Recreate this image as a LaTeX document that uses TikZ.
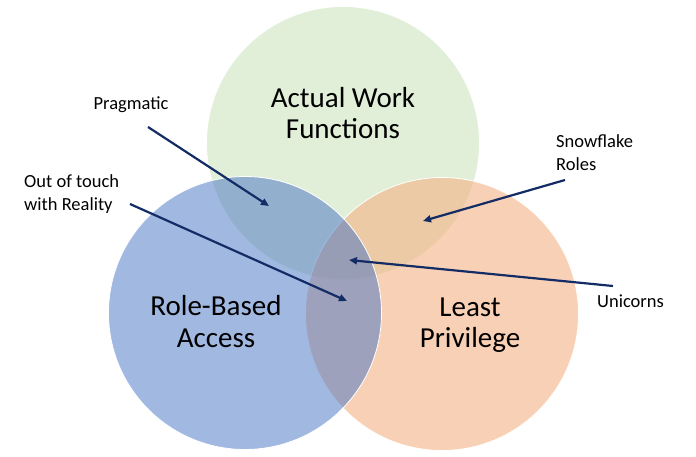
\documentclass[tikz,border=0pt]{standalone}
\usepackage{fontspec}
\setmainfont{Carlito}
\usetikzlibrary{arrows.meta}
\definecolor{cgreen}{HTML}{A9D18E}
\definecolor{cblue}{HTML}{4472C4}
\definecolor{corange}{HTML}{F4B183}
\definecolor{navy}{HTML}{132C66}
\tikzset{
  venn/.style={draw=white, line width=0.8pt},
  bigtext/.style={inner sep=0pt, align=center, font=\fontsize{29}{31.5}\selectfont, text=black},
  smalltext/.style={inner sep=0pt, align=left, font=\fontsize{18.5}{22.5}\selectfont, text=black},
  pointer/.style={draw=navy, line width=2.2pt, -{Triangle[length=8pt,width=7pt]}}
}
\begin{document}
\begin{tikzpicture}[x=1pt,y=-1pt]
\useasboundingbox (0,0) rectangle (696,457);
% circles
\filldraw[venn, fill=cgreen, fill opacity=0.35] (343,143) circle[radius=136.5];
\filldraw[venn, fill=corange, fill opacity=0.6] (442,314) circle[radius=136.5];
\filldraw[venn, fill=cblue, fill opacity=0.5] (245,313) circle[radius=136.5];
% main labels
\node[bigtext] (awf) at (343,113) {Actual Work\\Functions};
\node[bigtext] (rba) at (216,321.5) {Role-Based\\Access};
\node[bigtext] (lp) at (470,325) {Least\\Privilege};
% small labels
\node[smalltext, anchor=base] (prag) at (131,110) {Pragmatic};
\node[smalltext, anchor=west] (oot) at (24,194) {Out of touch\\with Reality};
\node[smalltext, anchor=west] (snow) at (556,152.5) {Snowflake\\Roles};
\node[smalltext, anchor=base west] (uni) at (597,307) {Unicorns};
% arrow endpoints
\coordinate (pragS) at (148,127);
\coordinate (pragE) at (269,206);
\coordinate (ootS) at (130,204);
\coordinate (ootE) at (347,301);
\coordinate (snowS) at (565,180);
\coordinate (snowE) at (423,221);
\coordinate (uniS) at (613,286);
\coordinate (uniE) at (349,260);
\draw[pointer] (pragS) -- (pragE);
\draw[pointer] (ootS) -- (ootE);
\draw[pointer] (snowS) -- (snowE);
\draw[pointer] (uniS) -- (uniE);
\end{tikzpicture}
\end{document}
